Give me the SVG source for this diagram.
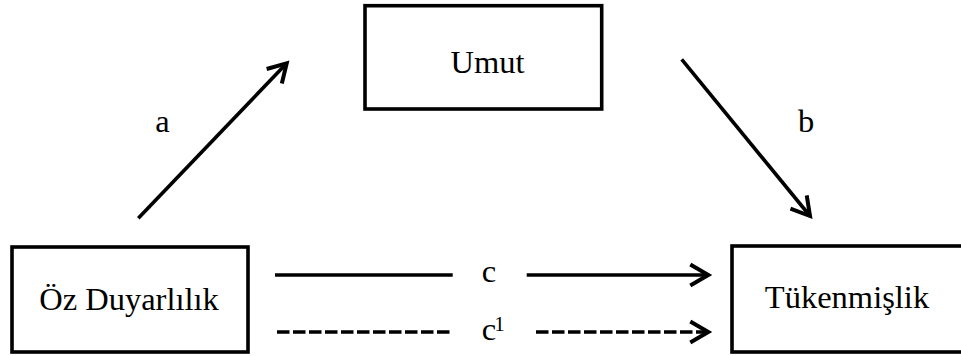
<svg xmlns="http://www.w3.org/2000/svg" width="961" height="356" viewBox="0 0 961 356">
  <style>
    .box { fill: #ffffff; stroke: #000000; stroke-width: 3.6; }
    .lbl { font-family: "Liberation Serif", "Times New Roman", serif; font-size: 32.5px; fill: #000000; text-anchor: middle; }
    .sup { font-family: "Liberation Serif", "Times New Roman", serif; font-size: 21px; fill: #000000; text-anchor: middle; }
    .conn { fill: none; stroke: #000000; stroke-width: 3.6; }
    .dash { stroke-dasharray: 12.5 3.5; }
  </style>
  <defs>
    <marker id="arr" markerUnits="userSpaceOnUse" orient="auto" markerWidth="40" markerHeight="40" viewBox="-25 -20 40 40" refX="3" refY="0" overflow="visible">
      <path d="M-15,-10.5 L3,0 L-15,10.5" fill="none" stroke="#000000" stroke-width="4" stroke-dasharray="none" stroke-linejoin="miter"/>
    </marker>
  </defs>
  <rect width="961" height="356" fill="#ffffff"/>

  <g id="connectors">
    <line class="conn" x1="138.3" y1="218.3" x2="286.7" y2="63.3" marker-end="url(#arr)"/>
    <line class="conn" x1="681.7" y1="59.3" x2="810" y2="216" marker-end="url(#arr)"/>
    <line class="conn" x1="275" y1="275" x2="452.7" y2="275"/>
    <line class="conn" x1="526.7" y1="275" x2="708.3" y2="275" marker-end="url(#arr)"/>
    <line class="conn dash" x1="277" y1="332" x2="453" y2="332"/>
    <line class="conn dash" x1="536" y1="332" x2="708.3" y2="332" marker-end="url(#arr)"/>
    <text class="lbl" x="162.5" y="131.7">a</text>
    <text class="lbl" x="806" y="131.7">b</text>
    <text class="lbl" x="489" y="282">c</text>
    <text class="lbl" x="489" y="340">c</text>
    <text class="sup" x="499.5" y="331">1</text>
  </g>

  <g id="oz-duyarlilik">
    <rect class="box" x="12" y="247" width="236" height="105"/>
    <text class="lbl" x="129" y="310">Öz Duyarlılık</text>
  </g>

  <g id="umut">
    <rect class="box" x="365" y="5.7" width="236.7" height="103.3"/>
    <text class="lbl" x="487.5" y="72.7">Umut</text>
  </g>

  <g id="tukenmislik">
    <rect class="box" x="732" y="246" width="231" height="106"/>
    <text class="lbl" x="847" y="307.5">Tükenmişlik</text>
  </g>
</svg>
